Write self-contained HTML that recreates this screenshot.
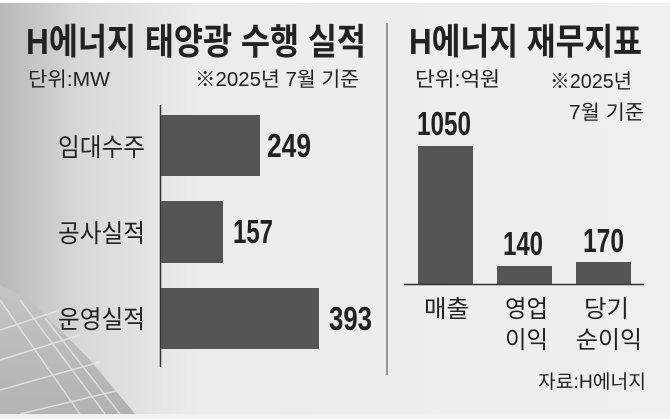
<!DOCTYPE html>
<html><head><meta charset="utf-8"><style>
html,body{margin:0;padding:0;}
body{width:670px;height:414px;overflow:hidden;background:#f0f0f0;}
text{font-family:"Liberation Sans","Noto Sans CJK KR","NanumGothic",sans-serif;fill:#222;}
</style></head><body>
<svg width="670" height="414" viewBox="0 0 670 414" xmlns="http://www.w3.org/2000/svg">
<defs>
<linearGradient id="bg" x1="0" y1="0" x2="1" y2="0">
<stop offset="0" stop-color="#b8b8b8"/><stop offset="0.12" stop-color="#d8d8d8"/><stop offset="0.3" stop-color="#ececec"/><stop offset="1" stop-color="#efefef"/>
</linearGradient>
<linearGradient id="pn" x1="0" y1="0" x2="1" y2="1">
<stop offset="0" stop-color="#c8c8c8"/><stop offset="1" stop-color="#9a9a9a"/>
</linearGradient>
</defs>
<rect width="670" height="414" fill="url(#bg)"/>
<rect x="0" y="0" width="670" height="3" fill="#fff"/>
<polygon points="0,285 30,300 90,360 135,414 0,414" fill="url(#pn)" opacity="0.7"/>
<g stroke="#e8e8e8" stroke-width="1.5" opacity="0.8">
<line x1="0" y1="300" x2="80" y2="414"/><line x1="20" y1="300" x2="105" y2="414"/><line x1="45" y1="318" x2="120" y2="414"/>
<line x1="0" y1="330" x2="60" y2="310"/><line x1="0" y1="360" x2="80" y2="335"/><line x1="0" y1="390" x2="100" y2="362"/><line x1="20" y1="414" x2="120" y2="390"/>
</g>
<rect x="0" y="0" width="670" height="414" fill="none"/>
<!-- left title -->
<text x="26" y="54" font-size="36" font-weight="bold" textLength="340" lengthAdjust="spacingAndGlyphs">H에너지 태양광 수행 실적</text>
<text x="28" y="86" font-size="20" textLength="82" lengthAdjust="spacingAndGlyphs">단위:MW</text>
<text x="195" y="86" font-size="20" textLength="164" lengthAdjust="spacingAndGlyphs">※2025년 7월 기준</text>
<line x1="160.5" y1="105" x2="160.5" y2="367" stroke="#333" stroke-width="1.5"/>
<rect x="161" y="115" width="99" height="61" fill="#555"/>
<rect x="161" y="201" width="62" height="62" fill="#555"/>
<rect x="161" y="288" width="158" height="61" fill="#555"/>
<g font-size="25">
<text x="58" y="156" textLength="87" lengthAdjust="spacingAndGlyphs">임대수주</text>
<text x="58" y="242" textLength="87" lengthAdjust="spacingAndGlyphs">공사실적</text>
<text x="58" y="328" textLength="87" lengthAdjust="spacingAndGlyphs">운영실적</text>
</g>
<g font-size="33" font-weight="bold">
<text x="267" y="157" textLength="44" lengthAdjust="spacingAndGlyphs">249</text>
<text x="233" y="243" textLength="40" lengthAdjust="spacingAndGlyphs">157</text>
<text x="329" y="330" textLength="43" lengthAdjust="spacingAndGlyphs">393</text>
</g>
<line x1="387" y1="23" x2="387" y2="375" stroke="#999" stroke-width="2"/>
<!-- right -->
<text x="409" y="54" font-size="36" font-weight="bold" textLength="233" lengthAdjust="spacingAndGlyphs">H에너지 재무지표</text>
<text x="415" y="86" font-size="20" textLength="85" lengthAdjust="spacingAndGlyphs">단위:억원</text>
<text x="550" y="88" font-size="20" textLength="82" lengthAdjust="spacingAndGlyphs">※2025년</text>
<text x="569" y="119" font-size="20" textLength="75" lengthAdjust="spacingAndGlyphs">7월 기준</text>
<rect x="418" y="146" width="55" height="138" fill="#555"/>
<rect x="497" y="266" width="55" height="18" fill="#555"/>
<rect x="576" y="262" width="55" height="22" fill="#555"/>
<line x1="404" y1="284.5" x2="644" y2="284.5" stroke="#333" stroke-width="1.5"/>
<g font-size="33" font-weight="bold">
<text x="417" y="135" textLength="54" lengthAdjust="spacingAndGlyphs">1050</text>
<text x="503" y="255" textLength="40" lengthAdjust="spacingAndGlyphs">140</text>
<text x="583" y="252" textLength="41" lengthAdjust="spacingAndGlyphs">170</text>
</g>
<g font-size="24">
<text x="424" y="317" textLength="45" lengthAdjust="spacingAndGlyphs">매출</text>
<text x="505" y="317" textLength="43" lengthAdjust="spacingAndGlyphs">영업</text>
<text x="505" y="348" textLength="43" lengthAdjust="spacingAndGlyphs">이익</text>
<text x="584" y="317" textLength="45" lengthAdjust="spacingAndGlyphs">당기</text>
<text x="576" y="348" textLength="66" lengthAdjust="spacingAndGlyphs">순이익</text>
</g>
<text x="538" y="388" font-size="19" textLength="108" lengthAdjust="spacingAndGlyphs">자료:H에너지</text>
</svg>
</body></html>
